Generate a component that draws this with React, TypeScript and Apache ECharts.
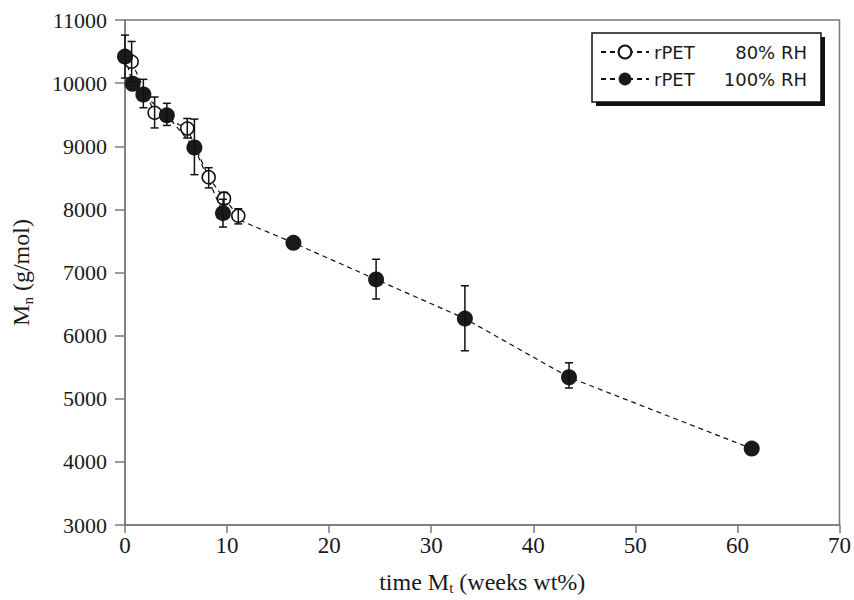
import React, { useEffect, useRef } from "react";
import * as echarts from "echarts";

// 80% RH (open circles)
const x80 = [0.65, 2.9, 6.1, 8.2, 9.7, 11.1];
const y80 = [10340, 9530, 9280, 8510, 8170, 7900];
const lo80 = [10020, 9290, 9130, 8340, 8080, 7770];
const hi80 = [10660, 9780, 9440, 8660, 8270, 8010];

// 100% RH (filled circles)
const x100 = [0, 0.75, 1.8, 4.1, 6.8, 9.6, 16.5, 24.6, 33.3, 43.5, 61.4];
const y100 = [10420, 9990, 9820, 9490, 8980, 7940, 7470, 6890, 6270, 5340, 4210];
const lo100 = [10080, null, 9610, 9330, 8550, 7720, null, 6580, 5760, 5170, null];
const hi100 = [10760, null, 10060, 9680, 9430, 8160, null, 7210, 6790, 5570, null];

const NAME80 = "rPET|80% RH";
const NAME100 = "rPET|100% RH";

const SERIF = "'Liberation Serif', 'Times New Roman', serif";
const SANS = "'DejaVu Sans', Verdana, sans-serif";
const INK = "#1a1a1a";
const AXIS = "#7a7a7a";

function errData(xs: number[], lo: (number | null)[], hi: (number | null)[]) {
  const out: number[][] = [];
  xs.forEach((x, i) => {
    if (lo[i] != null && hi[i] != null) out.push([x, lo[i] as number, hi[i] as number]);
  });
  return out;
}

function renderErr(params: any, api: any) {
  const x = api.value(0);
  const p1 = api.coord([x, api.value(1)]);
  const p2 = api.coord([x, api.value(2)]);
  const cw = 4;
  const style = { stroke: "#111", lineWidth: 1.5 };
  return {
    type: "group",
    children: [
      { type: "line", shape: { x1: p1[0], y1: p1[1], x2: p2[0], y2: p2[1] }, style },
      { type: "line", shape: { x1: p1[0] - cw, y1: p1[1], x2: p1[0] + cw, y2: p1[1] }, style },
      { type: "line", shape: { x1: p2[0] - cw, y1: p2[1], x2: p2[0] + cw, y2: p2[1] }, style },
    ],
  };
}

export default function App() {
  const ref = useRef<HTMLDivElement>(null);
  useEffect(() => {
    if (!ref.current) return;
    const chart = echarts.init(ref.current, null, { renderer: "svg" });
    const dash = [5, 4];
    chart.setOption({
      animation: false,
      backgroundColor: "#fff",
      grid: {
        left: 125, right: 12, top: 20, bottom: 68,
        show: true, borderColor: AXIS, borderWidth: 1.5, backgroundColor: "transparent",
      },
      xAxis: {
        type: "value", min: 0, max: 70, interval: 10,
        axisLine: { show: true, lineStyle: { color: AXIS, width: 1.5 } },
        axisTick: { show: true, length: 8, lineStyle: { color: AXIS, width: 1.5 } },
        splitLine: { show: false },
        axisLabel: { fontFamily: SERIF, fontSize: 23, color: INK, margin: 9, formatter: (v: number) => String(v) },
        name: "{a|time M}{b|t}{a| (weeks wt%)}",
        nameLocation: "middle",
        nameGap: 43,
        nameTextStyle: {
          fontFamily: SERIF, fontSize: 24, color: INK,
          rich: {
            a: { fontFamily: SERIF, fontSize: 24, color: INK },
            b: { fontFamily: SERIF, fontSize: 15, color: INK, padding: [12, 0, 0, 0] },
          },
        },
      },
      yAxis: {
        type: "value", min: 3000, max: 11000, interval: 1000,
        axisLine: { show: true, lineStyle: { color: AXIS, width: 1.5 } },
        axisTick: { show: true, length: 10, lineStyle: { color: AXIS, width: 1.5 } },
        splitLine: { show: false },
        axisLabel: { fontFamily: SERIF, fontSize: 22, color: INK, margin: 18, formatter: (v: number) => String(v) },
        name: "{a|M}{b|n}{a| (g/mol)}",
        nameLocation: "middle",
        nameGap: 90,
        nameRotate: 90,
        nameTextStyle: {
          fontFamily: SERIF, fontSize: 24, color: INK,
          rich: {
            a: { fontFamily: SERIF, fontSize: 24, color: INK },
            b: { fontFamily: SERIF, fontSize: 15, color: INK, padding: [14, 0, 0, 0] },
          },
        },
      },
      legend: {
        data: [NAME80, NAME100],
        orient: "vertical",
        left: 600,
        top: 43,
        padding: 0,
        itemWidth: 48,
        itemHeight: 16,
        itemGap: 9,
        z: 10,
        formatter: (name: string) => {
          const [a, b] = name.split("|");
          return `{a|${a}}{b|${b}}`;
        },
        textStyle: {
          fontFamily: SANS, fontSize: 18, color: INK,
          rich: {
            a: { fontFamily: SANS, fontSize: 18, color: INK, width: 67, lineHeight: 20 },
            b: { fontFamily: SANS, fontSize: 18, color: INK, width: 86, align: "right", lineHeight: 20 },
          },
        },
      },
      graphic: [
        { type: "rect", z: 5, shape: { x: 596, y: 37, width: 229, height: 69 }, style: { fill: "#111" } },
        {
          type: "rect", z: 6, shape: { x: 592, y: 33, width: 229, height: 69 },
          style: { fill: "#fff", stroke: "#111", lineWidth: 1.5 },
        },
      ],
      series: [
        {
          name: NAME80,
          type: "line",
          data: x80.map((x, i) => [x, y80[i]]),
          symbol: "circle",
          symbolSize: 13,
          z: 2,
          itemStyle: { color: "#fff", borderColor: "#111", borderWidth: 1.5 },
          lineStyle: { color: "#111", width: 1.2, type: dash },
        },
        {
          name: NAME100,
          type: "line",
          data: x100.map((x, i) => [x, y100[i]]),
          symbol: "circle",
          symbolSize: 16,
          z: 2,
          itemStyle: { color: INK, borderColor: INK, borderWidth: 0 },
          lineStyle: { color: "#111", width: 1.2, type: dash },
        },
        {
          name: "err80",
          type: "custom",
          renderItem: renderErr,
          data: errData(x80, lo80, hi80),
          encode: { x: 0, y: [1, 2] },
          z: 3,
        },
        {
          name: "err100",
          type: "custom",
          renderItem: renderErr,
          data: errData(x100, lo100, hi100),
          encode: { x: 0, y: [1, 2] },
          z: 3,
        },
      ],
    });
    return () => chart.dispose();
  }, []);
  return <div ref={ref} style={{ position: "absolute", left: 0, top: 0, width: 854, height: 600 }} />;
}
